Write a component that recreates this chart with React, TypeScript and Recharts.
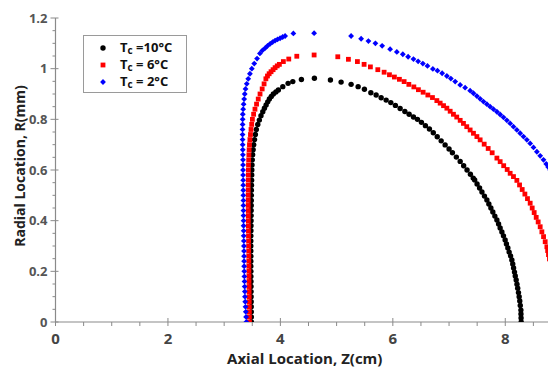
import { ScatterChart, Scatter, XAxis, YAxis, Legend } from "recharts";

// Axial location Z (cm), radial location R (mm)
const tc10: [number, number][] = [
  [3.484, 0], [3.483, 0.02], [3.482, 0.04], [3.481, 0.06], [3.48, 0.08], [3.479, 0.1],
  [3.478, 0.12], [3.477, 0.14], [3.476, 0.16], [3.475, 0.18], [3.475, 0.2], [3.474, 0.22],
  [3.474, 0.24], [3.474, 0.26], [3.474, 0.28], [3.474, 0.3], [3.474, 0.32], [3.475, 0.34],
  [3.476, 0.36], [3.477, 0.38], [3.478, 0.4], [3.479, 0.42], [3.48, 0.44], [3.481, 0.46],
  [3.482, 0.48], [3.483, 0.5], [3.484, 0.52], [3.486, 0.54], [3.488, 0.56], [3.49, 0.58],
  [3.492, 0.6], [3.495, 0.62], [3.5, 0.64], [3.507, 0.66], [3.516, 0.68], [3.527, 0.7],
  [3.54, 0.72], [3.555, 0.74], [3.572, 0.76], [3.598, 0.78], [3.626, 0.797], [3.655, 0.814],
  [3.687, 0.83], [3.716, 0.844], [3.746, 0.857], [3.775, 0.869], [3.804, 0.88], [3.838, 0.89],
  [3.875, 0.9], [3.92, 0.908], [3.964, 0.916], [4.043, 0.929], [4.137, 0.942], [4.221, 0.949],
  [4.374, 0.957], [4.605, 0.962], [4.89, 0.955], [5.08, 0.947], [5.258, 0.938], [5.383, 0.929],
  [5.495, 0.919], [5.609, 0.905], [5.703, 0.896], [5.792, 0.885], [5.881, 0.876], [5.964, 0.866],
  [6.046, 0.855], [6.13, 0.843], [6.214, 0.831], [6.29, 0.82], [6.367, 0.809], [6.438, 0.8],
  [6.509, 0.788], [6.58, 0.775], [6.651, 0.762], [6.72, 0.747], [6.79, 0.731], [6.86, 0.715],
  [6.93, 0.699], [7.0, 0.683], [7.06, 0.668], [7.13, 0.651], [7.198, 0.634], [7.26, 0.617],
  [7.32, 0.6], [7.38, 0.583], [7.43, 0.568], [7.456, 0.561],
  [7.498, 0.545], [7.543, 0.529], [7.585, 0.513], [7.63, 0.497], [7.673, 0.482], [7.708, 0.466],
  [7.744, 0.45], [7.779, 0.434], [7.815, 0.418], [7.851, 0.403], [7.881, 0.387], [7.909, 0.371],
  [7.94, 0.355], [7.968, 0.34], [7.998, 0.324], [8.021, 0.308], [8.046, 0.292], [8.069, 0.276],
  [8.094, 0.261], [8.117, 0.245], [8.133, 0.229], [8.148, 0.213], [8.164, 0.197], [8.178, 0.182],
  [8.194, 0.166], [8.208, 0.149], [8.221, 0.133], [8.235, 0.116], [8.247, 0.1], [8.258, 0.083],
  [8.267, 0.065], [8.278, 0.047], [8.279, 0.032], [8.281, 0.016], [8.283, 0],
];

const tc6: [number, number][] = [
  [3.45, 0], [3.449, 0.02], [3.448, 0.04], [3.447, 0.06], [3.446, 0.08], [3.445, 0.1],
  [3.444, 0.12], [3.443, 0.14], [3.442, 0.16], [3.441, 0.18], [3.44, 0.2], [3.439, 0.22],
  [3.438, 0.24], [3.437, 0.26], [3.436, 0.28], [3.435, 0.3], [3.434, 0.32], [3.433, 0.34],
  [3.432, 0.36], [3.431, 0.38], [3.43, 0.4], [3.43, 0.42], [3.429, 0.44], [3.428, 0.46],
  [3.428, 0.48], [3.428, 0.5], [3.428, 0.52], [3.428, 0.54], [3.429, 0.56], [3.43, 0.58],
  [3.431, 0.6], [3.433, 0.62], [3.436, 0.64], [3.44, 0.66], [3.444, 0.68], [3.45, 0.7],
  [3.458, 0.72], [3.468, 0.74], [3.478, 0.76], [3.49, 0.78], [3.502, 0.8], [3.524, 0.82],
  [3.548, 0.84], [3.576, 0.86], [3.606, 0.88], [3.638, 0.9], [3.676, 0.92], [3.71, 0.94],
  [3.742, 0.96], [3.77, 0.971], [3.8, 0.98], [3.834, 0.988], [3.87, 0.996], [3.906, 1.004],
  [3.944, 1.011], [3.982, 1.017], [4.053, 1.028], [4.149, 1.038], [4.292, 1.049], [4.6, 1.054],
  [5.021, 1.047], [5.21, 1.037], [5.37, 1.028], [5.489, 1.017], [5.601, 1.007], [5.733, 0.996],
  [5.845, 0.986], [5.94, 0.976], [6.028, 0.967], [6.117, 0.958], [6.201, 0.949], [6.285, 0.938],
  [6.374, 0.928], [6.455, 0.917], [6.539, 0.907], [6.623, 0.896], [6.705, 0.886], [6.783, 0.874],
  [6.842, 0.864], [6.902, 0.854], [6.961, 0.844], [7.02, 0.832], [7.078, 0.82], [7.137, 0.809],
  [7.198, 0.796], [7.256, 0.784], [7.315, 0.771], [7.375, 0.758], [7.434, 0.745], [7.495, 0.732],
  [7.553, 0.719], [7.625, 0.702], [7.696, 0.685], [7.767, 0.668], [7.851, 0.647], [7.909, 0.633],
  [7.972, 0.617], [8.034, 0.602], [8.087, 0.587], [8.146, 0.574], [8.206, 0.559], [8.254, 0.541],
  [8.301, 0.523], [8.349, 0.505], [8.395, 0.487], [8.443, 0.469], [8.479, 0.45], [8.514, 0.432],
  [8.55, 0.413], [8.585, 0.395], [8.621, 0.376], [8.651, 0.356], [8.681, 0.337], [8.71, 0.317],
  [8.74, 0.297], [8.754, 0.282], [8.769, 0.266], [8.786, 0.249],
];

const tc2: [number, number][] = [
  [3.395, 0], [3.39, 0.02], [3.385, 0.04], [3.38, 0.06], [3.375, 0.08], [3.37, 0.1],
  [3.368, 0.12], [3.365, 0.14], [3.362, 0.16], [3.36, 0.18], [3.358, 0.2], [3.356, 0.22],
  [3.355, 0.24], [3.354, 0.26], [3.353, 0.28], [3.352, 0.3], [3.35, 0.32], [3.348, 0.34],
  [3.347, 0.36], [3.346, 0.38], [3.345, 0.4], [3.344, 0.42], [3.343, 0.44], [3.342, 0.46],
  [3.342, 0.48], [3.341, 0.5], [3.34, 0.52], [3.339, 0.54], [3.338, 0.56], [3.337, 0.58],
  [3.336, 0.6], [3.336, 0.62], [3.335, 0.64], [3.333, 0.66], [3.331, 0.68], [3.329, 0.7],
  [3.328, 0.72], [3.327, 0.74], [3.327, 0.76], [3.328, 0.78], [3.329, 0.8], [3.331, 0.82],
  [3.338, 0.84], [3.346, 0.86], [3.356, 0.88], [3.366, 0.9], [3.38, 0.92], [3.402, 0.94],
  [3.428, 0.96], [3.458, 0.98], [3.492, 1.0], [3.535, 1.02], [3.585, 1.04], [3.636, 1.06],
  [3.68, 1.072], [3.728, 1.081], [3.772, 1.09], [3.817, 1.098], [3.862, 1.105], [3.906, 1.111],
  [3.95, 1.116], [3.995, 1.12], [4.04, 1.125], [4.084, 1.129], [4.231, 1.139], [4.6, 1.14],
  [5.258, 1.129], [5.436, 1.118], [5.566, 1.109], [5.69, 1.1], [5.81, 1.09], [5.952, 1.077],
  [6.071, 1.066], [6.178, 1.057], [6.272, 1.047], [6.367, 1.038], [6.45, 1.029], [6.534, 1.02],
  [6.616, 1.011], [6.712, 0.999], [6.794, 0.992], [6.877, 0.982], [6.961, 0.971], [7.032, 0.961],
  [7.109, 0.949], [7.198, 0.936], [7.286, 0.925], [7.375, 0.913], [7.434, 0.903], [7.495, 0.892],
  [7.553, 0.881], [7.612, 0.87], [7.673, 0.86], [7.731, 0.85], [7.79, 0.84], [7.851, 0.83],
  [7.909, 0.819], [7.968, 0.808], [8.028, 0.796], [8.087, 0.784], [8.146, 0.771], [8.206, 0.758],
  [8.265, 0.745], [8.324, 0.732], [8.384, 0.719], [8.443, 0.705], [8.502, 0.689], [8.562, 0.672],
  [8.621, 0.656], [8.68, 0.64], [8.728, 0.624], [8.763, 0.612], [8.8, 0.6],
];

const tcLabels = ["=10°C", "= 6°C", "= 2°C"];
const seriesColors = ["#000000", "#ff0000", "#0000ff"];

const xTicks = [0, 0.5, 1, 1.5, 2, 2.5, 3, 3.5, 4, 4.5, 5, 5.5, 6, 6.5, 7, 7.5, 8, 8.5];
const yTicks = [
  0, 0.05, 0.1, 0.15, 0.2, 0.25, 0.3, 0.35, 0.4, 0.45, 0.5, 0.55, 0.6,
  0.65, 0.7, 0.75, 0.8, 0.85, 0.9, 0.95, 1, 1.05, 1.1, 1.15, 1.2,
];

const FONT = "'Open Sans', sans-serif";
const AXIS = "#8a8a8a";

const toPoints = (arr: [number, number][]) => arr.map(([z, r]) => ({ z, r }));
const isMajor = (v: number, step: number) => Math.abs(v / step - Math.round(v / step)) < 1e-6;

function BottomTick(props: any) {
  const { x, y, payload } = props;
  const major = isMajor(payload.value, 2);
  return (
    <g>
      <line x1={x} x2={x} y1={major ? y - 4 : y} y2={y + 4} stroke={AXIS} strokeWidth={1} />
      {major && (
        <text x={x} y={y + 22} textAnchor="middle" fontFamily={FONT} fontWeight={700} fontSize={15} fill="#444">
          {payload.value}
        </text>
      )}
    </g>
  );
}

function TopTick(props: any) {
  const { x, y } = props;
  return <line x1={x} x2={x} y1={y} y2={y + 4} stroke={AXIS} strokeWidth={1} />;
}

function LeftTick(props: any) {
  const { x, y, payload } = props;
  const major = isMajor(payload.value, 0.2);
  return (
    <g>
      <line x1={x - (major ? 5 : 3)} x2={major ? x + 3 : x} y1={y} y2={y} stroke={AXIS} strokeWidth={1} />
      {major && (
        <text x={x - 8} y={y + 4.5} textAnchor="end" fontFamily={FONT} fontWeight={700} fontSize={13} fill="#555">
          {Number(payload.value.toFixed(2)).toString()}
        </text>
      )}
    </g>
  );
}

function Marker({ i, cx, cy }: { i: number; cx: number; cy: number }) {
  if (i === 0) return <circle cx={cx} cy={cy} r={2.7} fill={seriesColors[0]} />;
  if (i === 1) return <rect x={cx - 2.4} y={cy - 2.4} width={4.8} height={4.8} fill={seriesColors[1]} />;
  return (
    <polygon
      points={`${cx},${cy - 2.9} ${cx + 2.9},${cy} ${cx},${cy + 2.9} ${cx - 2.9},${cy}`}
      fill={seriesColors[2]}
    />
  );
}

const renderLegend = () => (
  <div
    style={{
      position: "relative",
      width: 104,
      height: 58,
      boxSizing: "border-box",
      border: "1px solid #9a9a9a",
      background: "#fff",
      fontFamily: FONT,
      fontWeight: 700,
      fontSize: 13,
      color: "#111",
    }}
  >
    {tcLabels.map((label, i) => (
      <div key={label} style={{ position: "absolute", left: 0, top: 3 + i * 17.2, height: 17, width: 104 }}>
        <svg width={10} height={10} style={{ position: "absolute", left: 14, top: 4 }}>
          <Marker i={i} cx={5} cy={5} />
        </svg>
        <span style={{ position: "absolute", left: 36, top: 0, whiteSpace: "nowrap", lineHeight: "17px" }}>
          T<sub style={{ fontSize: 10, verticalAlign: "-2px" }}>c</sub> {label}
        </span>
      </div>
    ))}
  </div>
);

export default function App() {
  const seriesData = [tc10, tc6, tc2];
  return (
    <div style={{ position: "absolute", left: 0, top: 0, width: 548, height: 367, overflow: "hidden", background: "#fff" }}>
      <ScatterChart width={548} height={367} margin={{ top: 18, right: 0, bottom: 0, left: 0 }}>
        <XAxis
          xAxisId="b"
          dataKey="z"
          type="number"
          domain={[0, 8.76]}
          allowDataOverflow
          ticks={xTicks}
          interval={0}
          tickSize={0}
          tickMargin={0}
          tickLine={false}
          tick={<BottomTick />}
          axisLine={{ stroke: AXIS, strokeWidth: 1.2 }}
          height={45}
          label={{
            content: (p: any) => {
              const vb = p.viewBox || { x: 55.5, y: 322, width: 492.5 };
              return (
                <text
                  x={vb.x + vb.width / 2 + 3}
                  y={vb.y + 42}
                  textAnchor="middle"
                  fontFamily={FONT}
                  fontWeight={700}
                  fontSize={15}
                  fill="#222"
                >
                  Axial Location, Z(cm)
                </text>
              );
            },
          }}
        />
        <XAxis
          xAxisId="t"
          orientation="top"
          dataKey="z"
          type="number"
          domain={[0, 8.76]}
          allowDataOverflow
          ticks={xTicks}
          interval={0}
          tickSize={0}
          tickMargin={0}
          tickLine={false}
          tick={<TopTick />}
          axisLine={{ stroke: AXIS, strokeWidth: 1.2 }}
          height={0}
        />
        <YAxis
          dataKey="r"
          type="number"
          domain={[0, 1.2]}
          allowDataOverflow
          ticks={yTicks}
          interval={0}
          tickSize={0}
          tickMargin={0}
          tickLine={false}
          tick={<LeftTick />}
          axisLine={{ stroke: AXIS, strokeWidth: 1.2 }}
          width={55.5}
          label={{
            content: (p: any) => {
              const vb = p.viewBox || { x: 0, y: 18, height: 304 };
              const cx = vb.x + 19;
              const cy = vb.y + vb.height / 2 - 4;
              return (
                <text
                  x={cx}
                  y={cy}
                  transform={`rotate(-90 ${cx} ${cy})`}
                  textAnchor="middle"
                  dominantBaseline="central"
                  fontFamily={FONT}
                  fontWeight={700}
                  fontSize={14}
                  fill="#222"
                >
                  Radial Location, R(mm)
                </text>
              );
            },
          }}
        />
        <Legend
          layout="vertical"
          align="center"
          verticalAlign="middle"
          content={renderLegend}
          wrapperStyle={{ left: 83, top: 35, width: 104, height: 58 }}
        />
        {seriesData.map((arr, i) => (
          <Scatter
            key={tcLabels[i]}
            name={`Tc ${tcLabels[i]}`}
            xAxisId="b"
            data={toPoints(arr)}
            fill={seriesColors[i]}
            isAnimationActive={false}
            shape={(p: any) => <Marker i={i} cx={p.cx} cy={p.cy} />}
          />
        ))}
      </ScatterChart>
    </div>
  );
}
